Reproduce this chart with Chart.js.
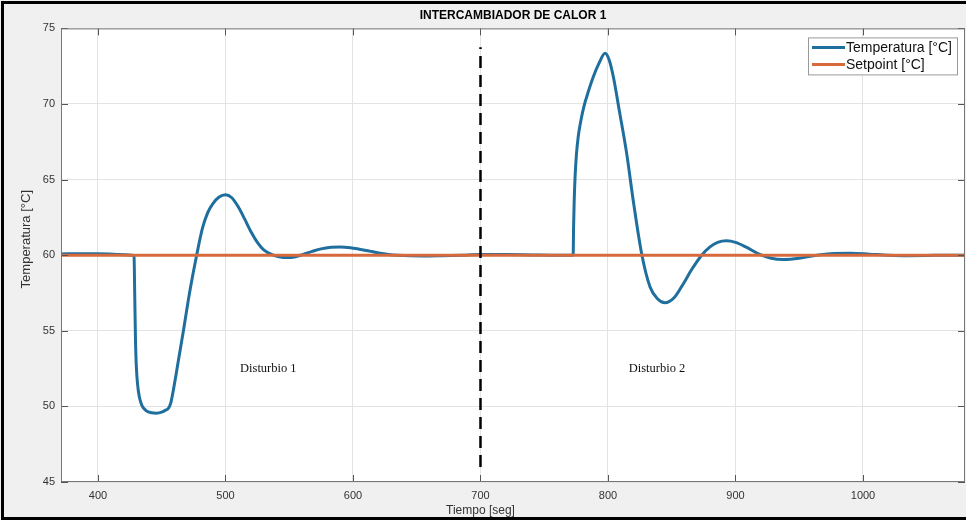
<!DOCTYPE html>
<html>
<head>
<meta charset="utf-8">
<title>Intercambiador de calor 1</title>
<script src="https://cdn.jsdelivr.net/npm/chart.js"></script>
<style>
  html, body { margin: 0; padding: 0; background: #fff; }
  #wrap { position: relative; width: 966px; height: 520px; overflow: hidden; background: #f0f0f0; }
  #frame { position: absolute; left: 1px; top: 1px; width: 975px; height: 513px; border: 3px solid #000; pointer-events: none; }
  canvas { position: absolute; left: 0; top: 0; }
</style>
</head>
<body>
<div id="wrap">
  <canvas id="myChart" width="966" height="520"></canvas>
  <div id="frame"></div>
</div>
<script>
// Temperatura medida
var time = [371, 385, 400, 415, 427, 428.3, 428.8, 429.4, 430, 431, 432.5, 434.5, 438, 442, 446, 450, 453, 455, 457, 460, 463, 467, 472, 477.4,
            482, 486, 490, 495, 500, 505, 510, 515, 520, 525, 530, 537, 543, 548, 555, 561, 568, 575, 583, 590, 598, 605,
            613, 620, 628, 635, 645, 655, 670, 685, 700, 720, 740, 760, 772.7, 773.0, 773.5, 774.2, 775.2, 776.6, 778.5, 781,
            784.5, 788.5, 793, 797.7, 801, 804.2, 809, 814.7, 820, 826.4, 833, 839, 844.7, 852, 859, 866, 873.5, 880, 886, 893, 900, 908,
            919, 928, 937.5, 950, 963.7, 977, 990, 1005, 1020, 1035, 1050, 1065, 1080];
var temp = [60.08, 60.1, 60.1, 60.05, 60.0, 59.9, 57.5, 54.5, 52.8, 51.5, 50.6, 50.05, 49.7, 49.58, 49.55, 49.62, 49.75, 49.85, 50.2, 51.5, 53.0, 55.0, 57.6, 60.0,
            61.8, 62.8, 63.4, 63.85, 64.0, 63.8, 63.2, 62.4, 61.55, 60.85, 60.35, 60.02, 59.88, 59.84, 59.9, 60.05, 60.25, 60.42, 60.52, 60.55, 60.5, 60.4,
            60.27, 60.15, 60.05, 60.0, 59.96, 59.95, 59.97, 60.0, 60.04, 60.04, 60.02, 60.0, 60.0, 61.8, 63.6, 65.2, 66.6, 67.8, 68.8, 69.8,
            70.8, 71.8, 72.7, 73.35, 72.9, 71.8, 69.5, 66.7, 63.5, 60.1, 57.9, 57.1, 56.85, 57.2, 58.1, 59.1, 60.0, 60.55, 60.85, 60.95, 60.85, 60.55,
            60.05, 59.8, 59.72, 59.8, 60.0, 60.12, 60.13, 60.07, 60.0, 59.97, 59.98, 60.0, 60.0];

// Setpoint
var setTime = [371, 1080];
var setValue = [60, 60];

// linea divisoria entre disturbios
var divTime = [700, 700];
var divValue = [46, 73.75];

var xTicks = [400, 500, 600, 700, 800, 900, 1000];
var yTicks = [45, 50, 55, 60, 65, 70, 75];

var noteText = ["Disturbio 1", "Disturbio 2"];
var noteX = [533.6, 838.4];
var noteY = [52.46, 52.46];

var blue = "#1f6f9e";
var orange = "#d66a3c";
var sans = '"Liberation Sans", Arial, sans-serif';

function pts(xs, ys) {
    var out = [];
    for (var i = 0; i < xs.length; i++) {
        out.push({ x: xs[i], y: ys[i] });
    }
    return out;
}

// fondo blanco, marcas hacia adentro, caja, rotulos, notas y leyenda
var plotBox = {
    id: "plotBox",
    beforeDraw: function (chart) {
        var a = chart.chartArea, c = chart.ctx;
        c.save();
        c.fillStyle = "#fff";
        c.fillRect(a.left, a.top, a.right - a.left, a.bottom - a.top);
        c.restore();
    },
    afterDraw: function (chart) {
        var a = chart.chartArea, c = chart.ctx;
        var sx = chart.scales.x, sy = chart.scales.y;
        c.save();
        c.strokeStyle = "#555";
        c.lineWidth = 1;
        c.beginPath();
        for (var i = 0; i < xTicks.length; i++) {
            var px = Math.round(sx.getPixelForValue(xTicks[i])) + 0.5;
            c.moveTo(px, a.bottom); c.lineTo(px, a.bottom - 7);
            c.moveTo(px, a.top); c.lineTo(px, a.top + 7);
        }
        for (var j = 0; j < yTicks.length; j++) {
            var py = Math.round(sy.getPixelForValue(yTicks[j])) + 0.5;
            c.moveTo(a.left, py); c.lineTo(a.left + 7, py);
            c.moveTo(a.right, py); c.lineTo(a.right - 7, py);
        }
        c.stroke();
        c.strokeStyle = "#777";
        c.strokeRect(a.left + 0.5, a.top + 0.5, a.right - a.left - 1, a.bottom - a.top - 1);

        // rotulo del eje x (centrado bajo 700 como en la figura)
        c.font = "12px " + sans;
        c.fillStyle = "#333";
        c.textAlign = "center";
        c.textBaseline = "middle";
        c.fillText("Tiempo [seg]", sx.getPixelForValue(700), 511);

        // rotulo del eje y
        c.save();
        c.translate(26, (a.top + a.bottom) / 2 - 16);
        c.rotate(-Math.PI / 2);
        c.font = "13px " + sans;
        c.fillText("Temperatura [°C]", 0, 0);
        c.restore();

        // notas
        c.font = '12.5px "Liberation Serif", serif';
        c.fillStyle = "#111";
        for (var k = 0; k < noteText.length; k++) {
            c.fillText(noteText[k], sx.getPixelForValue(noteX[k]), sy.getPixelForValue(noteY[k]));
        }

        // leyenda
        var lx = a.right - 157, ly = a.top + 9, lw = 150, lh = 38;
        c.fillStyle = "#fff";
        c.fillRect(lx, ly, lw, lh);
        c.strokeStyle = "#999";
        c.strokeRect(lx + 0.5, ly + 0.5, lw - 1, lh - 1);
        var items = [chart.data.datasets[1], chart.data.datasets[0]];
        c.textAlign = "left";
        c.font = "14px " + sans;
        for (var m = 0; m < items.length; m++) {
            var yy = ly + 10 + m * 17;
            c.strokeStyle = items[m].borderColor;
            c.lineWidth = 3;
            c.beginPath();
            c.moveTo(lx + 4, yy); c.lineTo(lx + 37, yy);
            c.stroke();
            c.fillStyle = "#111";
            c.fillText(items[m].label, lx + 38, yy + 1);
        }
        c.restore();
    }
};

var ctx = document.getElementById("myChart");

var chart = new Chart(ctx, {
    type: "scatter",
    data: {
        datasets: [
            {
                label: "Setpoint [°C]",
                data: pts(setTime, setValue),
                borderColor: orange,
                borderWidth: 3,
                showLine: true,
                pointRadius: 0,
                order: 1
            },
            {
                label: "Temperatura [°C]",
                data: pts(time, temp),
                borderColor: blue,
                borderWidth: 3,
                showLine: true,
                pointRadius: 0,
                cubicInterpolationMode: "monotone",
                order: 2
            },
            {
                label: "divisor",
                data: pts(divTime, divValue),
                borderColor: "#000",
                borderWidth: 2.5,
                borderDash: [12, 7],
                showLine: true,
                pointRadius: 0,
                order: 0
            }
        ]
    },
    options: {
        responsive: false,
        animation: false,
        devicePixelRatio: 1,
        layout: { padding: { left: 0, right: 1, top: 0, bottom: 0 } },
        plugins: {
            legend: { display: false },
            tooltip: { enabled: false },
            title: {
                display: true,
                text: "INTERCAMBIADOR DE CALOR 1",
                fullSize: false,
                color: "#000",
                font: { family: sans, size: 12, weight: "bold" },
                padding: { top: 8, bottom: 6 }
            }
        },
        scales: {
            x: {
                type: "linear",
                min: 371,
                max: 1080,
                afterFit: function (s) { s.height = 38; },
                afterBuildTicks: function (s) { s.ticks = xTicks.map(function (v) { return { value: v }; }); },
                grid: { color: "#e3e3e3", drawTicks: false },
                border: { display: false },
                ticks: {
                    color: "#333", font: { family: sans, size: 11 }, padding: 7, maxRotation: 0,
                    callback: function (v) { return String(v); }
                },
                title: { display: false }
            },
            y: {
                type: "linear",
                min: 45,
                max: 75,
                afterFit: function (s) { s.width = 61; },
                afterBuildTicks: function (s) { s.ticks = yTicks.map(function (v) { return { value: v }; }); },
                grid: { color: "#e3e3e3", drawTicks: false },
                border: { display: false },
                ticks: { color: "#333", font: { family: sans, size: 11 }, padding: 6, callback: function (v) { return String(v); } },
                title: { display: false }
            }
        }
    },
    plugins: [plotBox]
});
</script>
</body>
</html>
